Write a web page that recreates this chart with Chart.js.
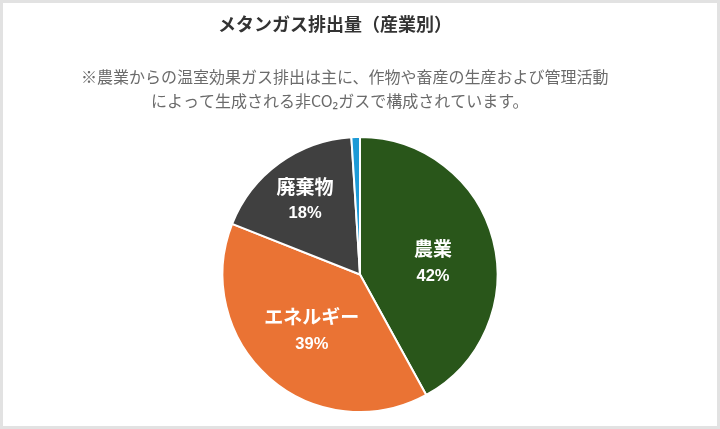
<!DOCTYPE html>
<html lang="ja">
<head>
<meta charset="utf-8">
<script src="https://cdn.jsdelivr.net/npm/chart.js@4"></script>
<style>
  html, body { margin: 0; padding: 0; background: #fff; }
  #wrap { width: 720px; height: 429px; box-sizing: border-box; border: 3px solid #e2e2e2; background: #fff; }
  canvas { display: block; }
</style>
</head>
<body>
<div id="wrap"><canvas id="c" width="714" height="423" style="width:714px;height:423px"></canvas></div>
<script>
// ---- data ----
const categories = ['農業', 'エネルギー', '廃棄物', 'その他'];
const values = [42, 39, 18, 1];
const showLabel = [true, true, true, false];
const titleText = 'メタンガス排出量（産業別）';
const subtitleLines = [
  '※農業からの温室効果ガス排出は主に、作物や畜産の生産および管理活動',
  'によって生成される非CO₂ガスで構成されています。'
];

// ---- style ----
const sliceColors = ['#29561a', '#ea7334', '#404040', '#1d9ad6'];
const labelRadiusFactor = [0.54, 0.53, 0.68, 0];
const labelAngleShift = [0.07, 0, 0, 0];
const JP = '"Noto Sans CJK JP", "Noto Sans", sans-serif';

// heading text (drawn as real canvas text, left-aligned like the reference)
const headingPlugin = {
  id: 'heading',
  afterDraw(chart) {
    const ctx = chart.ctx;
    ctx.save();
    ctx.textAlign = 'left';
    ctx.textBaseline = 'middle';
    ctx.fillStyle = '#333333';
    ctx.font = 'bold 18px ' + JP;
    ctx.fillText(titleText, 215, 21.5);
    ctx.fillStyle = '#6b6b6b';
    ctx.font = '16px ' + JP;
    ctx.fillText(subtitleLines[0], 78, 73.5);
    ctx.fillText(subtitleLines[1], 148, 98);
    ctx.restore();
  }
};

const sliceLabels = {
  id: 'sliceLabels',
  afterDatasetsDraw(chart) {
    const ctx = chart.ctx;
    const meta = chart.getDatasetMeta(0);
    const total = values.reduce((a, b) => a + b, 0);
    ctx.save();
    ctx.fillStyle = '#ffffff';
    ctx.textAlign = 'center';
    ctx.textBaseline = 'middle';
    meta.data.forEach((arc, i) => {
      if (!showLabel[i]) return;
      const p = arc.getProps(['x', 'y', 'startAngle', 'endAngle', 'outerRadius'], true);
      const mid = (p.startAngle + p.endAngle) / 2 + labelAngleShift[i];
      const r = p.outerRadius * labelRadiusFactor[i];
      const x = p.x + Math.cos(mid) * r;
      const y = p.y + Math.sin(mid) * r;
      ctx.font = 'bold 19px ' + JP;
      ctx.fillText(categories[i], x, y - 12.5);
      ctx.font = 'bold 16.5px "Liberation Sans", Arial, sans-serif';
      ctx.fillText(Math.round(values[i] / total * 100) + '%', x, y + 15);
    });
    ctx.restore();
  }
};

new Chart(document.getElementById('c'), {
  type: 'pie',
  data: {
    labels: categories,
    datasets: [{
      data: values,
      backgroundColor: sliceColors,
      borderColor: '#ffffff',
      borderWidth: 2
    }]
  },
  options: {
    responsive: false,
    animation: false,
    devicePixelRatio: 1,
    layout: { padding: { top: 133, bottom: 13, left: 0, right: 0 } },
    plugins: {
      legend: { display: false },
      tooltip: { enabled: false },
      title: { display: false },
      subtitle: { display: false }
    }
  },
  plugins: [sliceLabels, headingPlugin]
});
</script>
</body>
</html>
